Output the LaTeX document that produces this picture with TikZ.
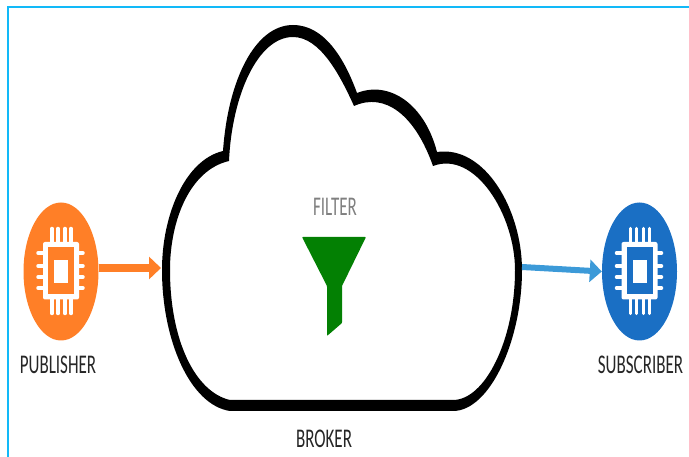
\documentclass[tikz,border=0pt]{standalone}
\usepackage{xcolor}
\usepackage{fontspec}
\usepackage{tikz}
\usetikzlibrary{arrows.meta,positioning,shapes.geometric}
\newfontfamily\lblfont[FakeStretch=0.63]{Carlito}
\definecolor{pubcolor}{HTML}{FF7F27}
\definecolor{subcolor}{HTML}{1A6FC4}
\definecolor{subarrow}{HTML}{3C9AD8}
\definecolor{framecolor}{HTML}{12B9F8}
\definecolor{funnelcolor}{HTML}{038003}
\definecolor{lblcolor}{HTML}{262626}

\begin{document}
\begin{tikzpicture}[
  x=1pt, y=-1pt,
  device/.style={ellipse, minimum width=75pt, minimum height=138pt, inner sep=0pt},
  lbl/.style={font=\lblfont\fontsize{27}{27}\selectfont, text=lblcolor, inner sep=0pt},
  arr/.style={-{Triangle[length=12pt,width=22pt]}, line width=7.5pt},
  chip/.pic={
    % pins
    \foreach \p in {-9,-3,4,10}
      \draw[white, line width=3.5pt, line cap=round] (\p,-43) -- (\p,-29) (\p,42) -- (\p,27);
    \foreach \p in {-18.5,-5.5,5.5,16.5}
      \draw[white, line width=3.5pt, line cap=round] (-23,\p) -- (-17,\p) (22,\p) -- (17,\p);
    % body
    \fill[white, rounded corners=2pt] (-18,-29.5) rectangle (18,28);
    \fill[pic actions] (-13,-24.5) rectangle (13,22.5);
    \fill[white] (-7,-11.5) rectangle (7,11.5);
  },
]
  \useasboundingbox (0,0) rectangle (689,457);

  % Frame
  \coordinate (framea) at (8,457);
  \coordinate (frameb) at (8,7);
  \coordinate (framec) at (689,7);
  \draw[framecolor, line width=2.5pt] (framea) -- (frameb) -- (framec);

  % Cloud
  \fill[even odd rule] (230,411)
    .. controls (190,405) and (162,340) .. (162,270)
    .. controls (162,215) and (185,160) .. (223,151)
    .. controls (228,80) and (255,25) .. (293,25)
    .. controls (325,25) and (345,60) .. (357,93)
    .. controls (390,80) and (425,105) .. (437,152)
    .. controls (485,145) and (522,210) .. (522,270)
    .. controls (522,340) and (490,411) .. (453,411)
    -- cycle
    (230,400)
    .. controls (195,392) and (170,340) .. (170,270)
    .. controls (170,220) and (190,170) .. (229,161)
    .. controls (232,95) and (258,37) .. (293,37)
    .. controls (320,37) and (340,75) .. (354,106)
    .. controls (385,92) and (415,115) .. (433,166)
    .. controls (475,150) and (515,215) .. (515,270)
    .. controls (515,340) and (485,400) .. (453,400)
    -- cycle;
  \coordinate (brokerin) at (161,268);
  \coordinate (brokerout) at (522,267);

  % Devices
  \node[device, fill=pubcolor] (pub) at (61,271.5) {};
  \node[device, fill=subcolor] (sub) at (639.5,271.5) {};
  \pic[fill=pubcolor] at (61,271.5) {chip};
  \pic[fill=subcolor] at (639.5,271.5) {chip};

  % Labels
  \node[lbl, below=15pt of pub, xshift=-3pt] (publbl) {PUBLISHER};
  \node[lbl, below=15pt of sub, xshift=1pt] (sublbl) {SUBSCRIBER};
  \node[lbl] (brokerlbl) at (324,439) {BROKER};
  \node[lbl, text=gray] (filterlbl) at (335,207) {FILTER};

  % Arrows
  \draw[arr, pubcolor] (pub.east |- brokerin) -- (brokerin);
  \draw[arr, subarrow, line width=6pt] (brokerout) -- (sub.west);

  % Funnel
  \fill[funnelcolor, rounded corners=0.8pt] (302,237) -- (366,237) -- (342,286)
    -- (342,323) -- (327,336) -- (327,286) -- cycle;
\end{tikzpicture}
\end{document}
